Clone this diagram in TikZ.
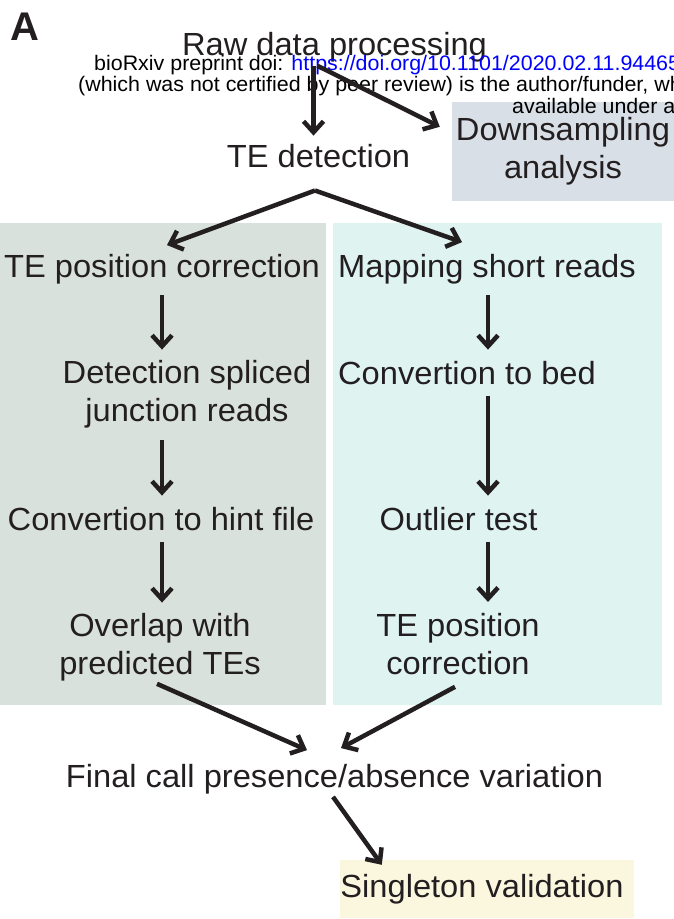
\documentclass[tikz,border=0pt]{standalone}
\usepackage{fontspec}
\setmainfont{Liberation Sans}[FakeStretch=1.02]
\newfontfamily\letterfont{Liberation Sans}
\usetikzlibrary{arrows.meta}
\definecolor{ink}{RGB}{35,31,32}
\definecolor{leftbg}{RGB}{217,225,220}
\definecolor{rightbg}{RGB}{223,243,241}
\definecolor{downbg}{RGB}{217,223,230}
\definecolor{singlebg}{RGB}{250,247,222}
\definecolor{urlblue}{RGB}{0,0,255}
\tikzset{
  lbl/.style={inner sep=4pt, text=ink, align=center, font=\fontsize{32}{38}\selectfont},
  wm/.style={inner sep=0pt, anchor=base west, font=\fontsize{21}{22}\selectfont},
  flow/.style={draw=ink, line width=4.5pt, -{Straight Barb[length=11pt,width=20pt]}},
  vflow/.style={flow, shorten <=7pt, shorten >=7pt}
}
\begin{document}
\begin{tikzpicture}[x=1pt,y=-1pt]
\useasboundingbox (0,0) rectangle (674,919);
\clip (0,0) rectangle (674,919);
\fill[leftbg] (0,223) rectangle (326,705);
\fill[rightbg] (333,223) rectangle (662,705);
\node[font=\letterfont\bfseries\fontsize{40}{40}\selectfont, text=ink, inner sep=0pt, anchor=base west] (panel) at (10,40) {A};
\node[lbl, anchor=base] (raw) at (334.5,55) {Raw data processing};
\node[lbl, anchor=base] (det) at (318.5,167) {TE detection};
\node[lbl, inner xsep=0pt, fill=downbg, minimum width=222pt, minimum height=99pt] (down) at (563,151.5) {Downsampling\\analysis};
\node[lbl, anchor=base] (posL) at (162,277) {TE position correction};
\node[lbl] (splice) at (187,394.7) {Detection spliced\\junction reads};
\node[lbl, anchor=base] (hint) at (161,530) {Convertion to hint file};
\node[lbl] (overlap) at (160,647.7) {Overlap with\\predicted TEs};
\node[lbl, anchor=base] (mapR) at (487,277) {Mapping short reads};
\node[lbl, anchor=base] (bed) at (467,384) {Convertion to bed};
\node[lbl, anchor=base] (outlier) at (458.5,530) {Outlier test};
\node[lbl] (posR) at (458,643.9) {TE position\\correction};
\node[lbl, anchor=base] (final) at (334.5,787) {Final call presence/absence variation};
\node[lbl, inner xsep=0pt, fill=singlebg, minimum width=294pt, minimum height=58pt] (single) at (487,889) {Singleton validation\hspace*{10pt}};
\node[wm] (wm1) at (94,70.5) {bioRxiv preprint doi: \textcolor{urlblue}{https://doi.org/10.1101/2020.02.11.94465}};
\node[wm] (wm2) at (78,91.5) {(which was not certified by peer review) is the author/funder, wh};
\node[wm] (wm3) at (512,113) {available under a};
\draw[flow, shorten >=4pt] ([xshift=-21pt]raw.south) -- ([xshift=-21pt]raw.south |- det.north);
\draw[flow] ([xshift=-17pt]raw.south) -- ([xshift=-12pt,yshift=-25pt]down.north west);
\draw[flow] ([xshift=-3.5pt,yshift=-19pt]det.south) -- ([xshift=5pt,yshift=4.5pt]posL.north);
\draw[flow] ([xshift=-3.5pt,yshift=-19pt]det.south) -- ([xshift=-25pt,yshift=7.5pt]mapR.north);
\draw[vflow] (posL.south) -- (posL.south |- splice.north);
\draw[vflow] (posL.south |- splice.south) -- (posL.south |- hint.north);
\draw[vflow] (posL.south |- hint.south) -- (posL.south |- overlap.north);
\draw[vflow] ([xshift=1pt]mapR.south) -- ([xshift=1pt]mapR.south |- bed.north);
\draw[vflow] ([xshift=1pt]mapR.south |- bed.south) -- ([xshift=1pt]mapR.south |- outlier.north);
\draw[vflow] ([xshift=1pt]mapR.south |- outlier.south) -- ([xshift=1pt]mapR.south |- posR.north);
\draw[flow] ([xshift=-3pt,yshift=2pt]overlap.south) -- ([xshift=-27.5pt,yshift=9.5pt]final.north);
\draw[flow] ([xshift=-3pt,yshift=-8pt]posR.south) -- ([xshift=6.5pt,yshift=11.5pt]final.north);
\draw[flow] ([xshift=-1.5pt,yshift=1pt]final.south) -- ([xshift=42pt,yshift=-5pt]single.north west);
\end{tikzpicture}
\end{document}
